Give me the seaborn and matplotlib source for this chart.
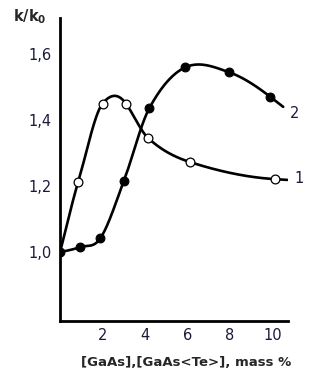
import numpy as np
import pandas as pd
import matplotlib
matplotlib.use("Agg")
import matplotlib.pyplot as plt
import seaborn as sns

# Data
x1 = [0.0, 0.85, 2.0, 3.1, 4.15, 6.1, 10.1]
y1 = [1.0, 1.212, 1.45, 1.45, 1.345, 1.273, 1.221]
x2 = [0.0, 0.95, 1.9, 3.0, 4.2, 5.9, 7.95, 9.9]
y2 = [1.0, 1.015, 1.042, 1.215, 1.436, 1.56, 1.545, 1.47]
xticks = [2, 4, 6, 8, 10]
yticks = [1.0, 1.2, 1.4, 1.6]
ytick_labels = ["1,0", "1,2", "1,4", "1,6"]
curve_labels = ["1", "2"]


def hermite_curve(x, y, xe, overrides=None):
    """Smooth drawing of a curve through the data points (cubic Hermite)."""
    x = np.asarray(x, float)
    y = np.asarray(y, float)
    n = len(x)
    m = np.zeros(n)
    for i in range(1, n - 1):
        m[i] = (y[i + 1] - y[i - 1]) / (x[i + 1] - x[i - 1])
    m[0] = (y[1] - y[0]) / (x[1] - x[0])
    m[-1] = (y[-1] - y[-2]) / (x[-1] - x[-2])
    for k, v in (overrides or {}).items():
        m[k] = v
    out = []
    for xv in xe:
        if xv > x[-1]:
            out.append(y[-1] + m[-1] * (xv - x[-1]))
            continue
        i = min(max(np.searchsorted(x, xv) - 1, 0), n - 2)
        h = x[i + 1] - x[i]
        t = (xv - x[i]) / h
        h00 = 2 * t**3 - 3 * t**2 + 1
        h10 = t**3 - 2 * t**2 + t
        h01 = -2 * t**3 + 3 * t**2
        h11 = t**3 - t**2
        out.append(h00 * y[i] + h10 * h * m[i] + h01 * y[i + 1] + h11 * h * m[i + 1])
    return np.array(out)


sns.set_style("white")
plt.rcParams["font.family"] = ["DejaVu Sans"]

fig = plt.figure(figsize=(3.3, 3.77), dpi=100)
ax = fig.add_axes([0.182, 0.1485, 0.691, 0.8035])

xs1 = np.linspace(x1[0], 10.7, 400)
xs2 = np.linspace(x2[0], 10.5, 400)
s1 = pd.DataFrame({"x": xs1, "y": hermite_curve(
    x1, y1, xs1, {1: 0.215, 2: 0.08, 3: -0.09, 6: -0.004})})
s2 = pd.DataFrame({"x": xs2, "y": hermite_curve(
    x2, y2, xs2, {0: 0.012, 7: -0.05})})
sns.lineplot(data=s1, x="x", y="y", ax=ax, color="black", lw=1.9, sort=False)
sns.lineplot(data=s2, x="x", y="y", ax=ax, color="black", lw=1.9, sort=False)

sns.scatterplot(x=x2, y=y2, ax=ax, color="black", s=40, edgecolor="black",
                linewidth=0.8, zorder=5)
sns.scatterplot(x=x1[1:], y=y1[1:], ax=ax, color="white", s=40,
                edgecolor="black", linewidth=0.9, zorder=6)

ax.set_xlim(0, 10.73)
ax.set_ylim(0.791, 1.709)
ax.set_xticks(xticks)
ax.set_xticklabels([str(t) for t in xticks])
ax.set_yticks(yticks)
ax.set_yticklabels(ytick_labels)
ax.tick_params(direction="in", length=5, width=1.8, labelsize=10.5,
               colors="black", labelcolor="#1a1a3a")
ax.tick_params(axis="y", pad=6)
ax.tick_params(axis="x", pad=5)
for s in ["top", "right"]:
    ax.spines[s].set_visible(False)
for s in ["left", "bottom"]:
    ax.spines[s].set_linewidth(2.0)
    ax.spines[s].set_color("black")

ax.set_xlabel("[GaAs],[GaAs<Te>], mass %", fontsize=9.5, fontweight="bold")
ax.xaxis.set_label_coords(0.553, -0.115)
ax.set_ylabel("")
fig.text(0.09, 0.955, "k/k$_\\mathbf{0}$", fontsize=10.5, fontweight="bold",
         ha="center", va="center")

ax.text(11.05, 1.222, curve_labels[0], fontsize=10.5, va="center", ha="left",
        color="#1a1a3a", clip_on=False)
ax.text(10.8, 1.42, curve_labels[1], fontsize=10.5, va="center", ha="left",
        color="#1a1a3a", clip_on=False)

fig.savefig("out.png", dpi=100)
